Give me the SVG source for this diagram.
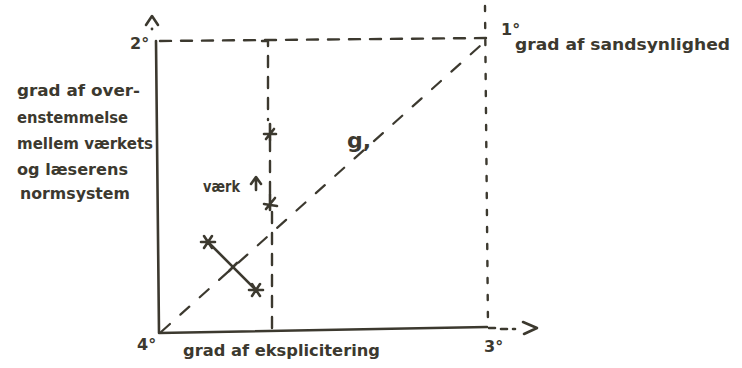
<svg xmlns="http://www.w3.org/2000/svg" width="742" height="368" viewBox="0 0 742 368">
<style>
.ink{stroke:#3c392f;fill:none;stroke-linecap:round;stroke-linejoin:round}
.solid{stroke-width:2.6}
.dash{stroke-width:2.4;stroke-dasharray:11 10}
.dot{stroke-width:2.4;stroke-dasharray:5 12}
.diag{stroke-width:2.2;stroke-dasharray:12 14}
.t{font-family:"DejaVu Sans","Liberation Sans",sans-serif;font-weight:bold;fill:#3c392f;font-size:16px}
.big{font-size:22px}
</style>
<rect width="742" height="368" fill="#ffffff"/>
<g id="axes">
  <path class="ink solid" d="M156,41 L159,333 L487,327"/>
  <path class="ink solid" d="M146,25 L152,16 L158,25"/>
  <circle cx="152" cy="29" r="1.4" fill="#3c392f"/>
  <path class="ink solid" d="M489,328 L495,328 M501,329 L507,329 M513,329 L515,329"/>
  <path class="ink solid" d="M523,322 L537,328 L524,334"/>
</g>
<g id="connectors">
  <path class="ink dash" d="M160,41 L488,38"/>
  <path class="ink dash" d="M262,41 L268,41 L268,120 M270,140 L270,196 M272,212 L272,333"/>
  <path class="ink dot" d="M485,6 L488,327"/>
  <path class="ink diag" d="M161,332 L490,37"/>
  <path class="ink solid" d="M208,242 L256,290"/>
  <path class="ink solid" d="M229,271 L237,263"/>
</g>
<g id="marks">
  <path class="ink solid" d="M201,242 L215,242 M204,236 L212,248 M212,236 L204,248"/>
  <path class="ink solid" d="M249,290 L263,290 M252,284 L260,296 M260,284 L252,296"/>
  <path class="ink solid" d="M270,124 L270,140 M264,134 L276,134 M266,139 L274,129"/>
  <path class="ink solid" d="M270,194 L270,210 M264,204 L277,206 M266,209 L275,198"/>
  <path class="ink solid" d="M256,190 L256,178 M251,184 L256,177 L261,184"/>
</g>
<g id="labels">
  <text class="t" x="130" y="49">2°</text>
  <text class="t" x="501" y="35">1°</text>
  <text class="t" x="515" y="50" textLength="215" lengthAdjust="spacingAndGlyphs">grad af sandsynlighed</text>
  <text class="t" x="17" y="96" textLength="123" lengthAdjust="spacingAndGlyphs">grad af over-</text>
  <text class="t" x="17" y="123" textLength="111" lengthAdjust="spacingAndGlyphs">enstemmelse</text>
  <text class="t" x="17" y="149" textLength="136" lengthAdjust="spacingAndGlyphs">mellem værkets</text>
  <text class="t" x="17" y="175" textLength="111" lengthAdjust="spacingAndGlyphs">og læserens</text>
  <text class="t" x="20" y="199" textLength="110" lengthAdjust="spacingAndGlyphs">normsystem</text>
  <text class="t" x="203" y="192" textLength="37" lengthAdjust="spacingAndGlyphs">værk</text>
  <text class="t big" x="347" y="148">g,</text>
  <text class="t" x="137" y="350">4°</text>
  <text class="t" x="484" y="352">3°</text>
  <text class="t" x="183" y="356" textLength="197" lengthAdjust="spacingAndGlyphs">grad af eksplicitering</text>
</g>
</svg>
